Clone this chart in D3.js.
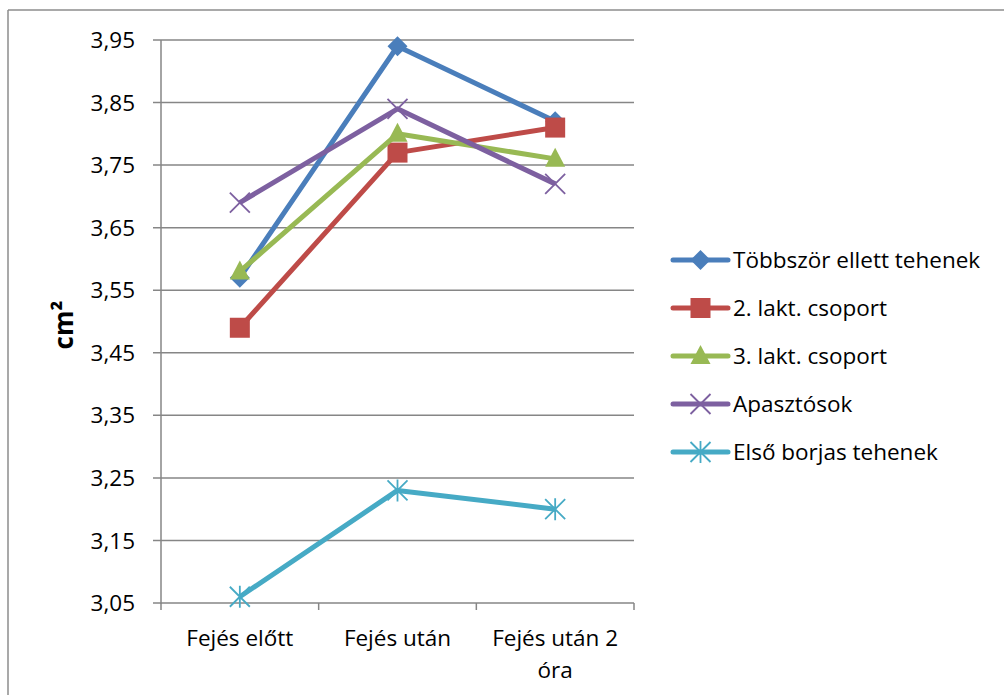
<!DOCTYPE html>
<html><head><meta charset="utf-8">
<script src="https://cdn.jsdelivr.net/npm/d3@7"></script>
<style>html,body{margin:0;padding:0;background:#fff;}svg{display:block;font-family:"Open Sans","Noto Sans",sans-serif;}</style>
</head><body><svg id="c" width="1004" height="695"></svg>
<script>
const categories = ["Fejés előtt", "Fejés után", "Fejés után 2 óra"];
const categoryLines = [["Fejés előtt"], ["Fejés után"], ["Fejés után 2", "óra"]];
const seriesNames = ["Többször ellett tehenek", "2. lakt. csoport", "3. lakt. csoport", "Apasztósok", "Első borjas tehenek"];
const tobbszor = [3.57, 3.94, 3.82];
const lakt2 = [3.49, 3.77, 3.81];
const lakt3 = [3.58, 3.80, 3.76];
const apasztosok = [3.69, 3.84, 3.72];
const elsoBorjas = [3.06, 3.23, 3.20];
const yTicks = [3.05, 3.15, 3.25, 3.35, 3.45, 3.55, 3.65, 3.75, 3.85, 3.95];
const colors = ["#4A7EBB", "#BE4B48", "#98B954", "#7D60A0", "#46AAC5"];
const markerTypes = ["diamond", "square", "triangle", "x", "asterisk"];
const seriesValues = [tobbszor, lakt2, lakt3, apasztosok, elsoBorjas];

const svg = d3.select("#c");
const gridColor = "#868686";
const FS = 22.5;
svg.append("line").attr("x1", 8).attr("x2", 1004).attr("y1", 10).attr("y2", 10).attr("stroke", "#8c8c8c").attr("stroke-width", 1.5);
svg.append("line").attr("x1", 8).attr("x2", 8).attr("y1", 10).attr("y2", 695).attr("stroke", "#8c8c8c").attr("stroke-width", 1.5);

const x = d3.scaleBand().domain(categories).range([161, 634]);
const y = d3.scaleLinear().domain([3.05, 3.95]).range([603, 40]);

svg.append("g").selectAll("line").data(yTicks).join("line")
  .attr("x1", 153).attr("x2", 634)
  .attr("y1", d => y(d)).attr("y2", d => y(d))
  .attr("stroke", gridColor).attr("stroke-width", 1.5);

svg.append("line").attr("x1", 161).attr("x2", 161).attr("y1", y(3.95)).attr("y2", y(3.05) + 0.75).attr("stroke", gridColor).attr("stroke-width", 1.5);
const bounds = [161].concat(categories.map(c => x(c) + x.bandwidth()));
svg.append("g").selectAll("line").data(bounds).join("line")
  .attr("x1", d => d).attr("x2", d => d).attr("y1", y(3.05)).attr("y2", y(3.05) + 7)
  .attr("stroke", gridColor).attr("stroke-width", 1.5);

svg.append("g").selectAll("text").data(yTicks).join("text")
  .attr("x", 135).attr("y", d => y(d)).attr("dy", "0.36em")
  .attr("text-anchor", "end").attr("font-size", FS).attr("fill", "#000")
  .text(d => d.toFixed(2).replace(".", ","));

const xl = svg.append("g").selectAll("text").data(categories).join("text")
  .attr("x", d => x(d) + x.bandwidth() / 2).attr("y", 646)
  .attr("text-anchor", "middle").attr("font-size", FS).attr("fill", "#000");
xl.each(function(d, i) {
  const t = d3.select(this);
  categoryLines[i].forEach((ln, j) => {
    t.append("tspan").attr("x", x(d) + x.bandwidth() / 2).attr("dy", j === 0 ? 0 : 32).text(ln);
  });
});

svg.append("text").attr("transform", "translate(73,325) rotate(-90)")
  .attr("text-anchor", "middle").attr("font-size", 26).attr("font-weight", "bold").attr("fill", "#000")
  .text("cm²");

function drawMarker(g, type, cx, cy, color) {
  if (type === "diamond") {
    g.append("path").attr("d", `M${cx},${cy-10}L${cx+10},${cy}L${cx},${cy+10}L${cx-10},${cy}Z`).attr("fill", color);
  } else if (type === "square") {
    g.append("rect").attr("x", cx - 10).attr("y", cy - 10).attr("width", 20).attr("height", 20).attr("fill", color);
  } else if (type === "triangle") {
    g.append("path").attr("d", `M${cx},${cy-11}L${cx+10},${cy+8}L${cx-10},${cy+8}Z`).attr("fill", color);
  } else if (type === "x") {
    g.append("path").attr("d", `M${cx-10},${cy-10}L${cx+10},${cy+10}M${cx+10},${cy-10}L${cx-10},${cy+10}`).attr("stroke", color).attr("stroke-width", 1.8);
  } else if (type === "asterisk") {
    g.append("path").attr("d", `M${cx-10},${cy-10}L${cx+10},${cy+10}M${cx+10},${cy-10}L${cx-10},${cy+10}M${cx},${cy-11}L${cx},${cy+11}`).attr("stroke", color).attr("stroke-width", 1.8);
  }
}

const line = d3.line().x((d, i) => x(categories[i]) + x.bandwidth() / 2).y(d => y(d));
seriesValues.forEach((vals, s) => {
  const g = svg.append("g");
  g.append("path").datum(vals).attr("d", line).attr("fill", "none")
    .attr("stroke", colors[s]).attr("stroke-width", 5).attr("stroke-linejoin", "round");
  vals.forEach((v, i) => drawMarker(g, markerTypes[s], x(categories[i]) + x.bandwidth() / 2, y(v), colors[s]));
});

const lg = svg.append("g");
seriesNames.forEach((name, s) => {
  const ly = 260 + s * 48;
  lg.append("line").attr("x1", 673).attr("x2", 728).attr("y1", ly).attr("y2", ly)
    .attr("stroke", colors[s]).attr("stroke-width", 5).attr("stroke-linecap", "round");
  drawMarker(lg, markerTypes[s], 700.5, ly, colors[s]);
  lg.append("text").attr("x", 733).attr("y", ly).attr("dy", "0.36em")
    .attr("font-size", FS).attr("fill", "#000").text(name);
});
</script></body></html>
